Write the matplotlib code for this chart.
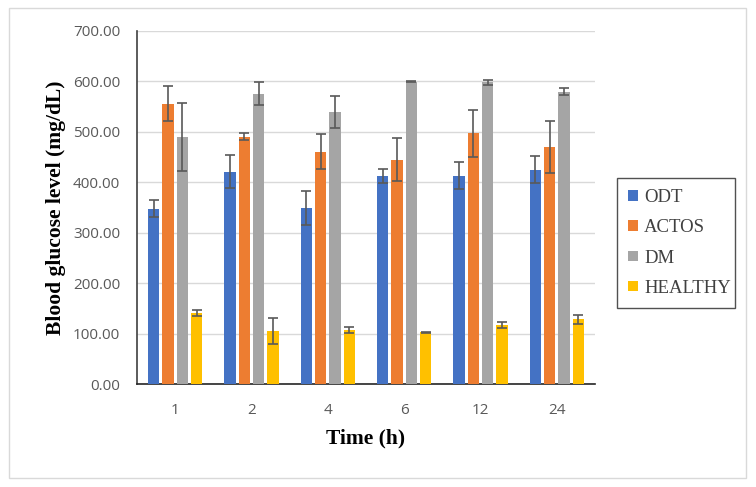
import numpy as np
import matplotlib.pyplot as plt
from matplotlib.patches import Rectangle

# Blood glucose data
times = ['1', '2', '4', '6', '12', '24']
groups = ['ODT', 'ACTOS', 'DM', 'HEALTHY']

odt = [348, 421, 349, 412, 413, 425]
odt_err = [16, 33, 34, 14, 27, 27]
actos = [556, 490, 461, 445, 497, 470]
actos_err = [35, 7, 35, 43, 47, 52]
dm = [490, 576, 540, 599, 598, 580]
dm_err = [67, 22, 32, 1, 5, 7]
healthy = [140, 105, 108, 103, 117, 128]
healthy_err = [6, 25, 6, 1, 5, 9]

colors = ['#4472C4', '#ED7D31', '#A5A5A5', '#FFC000']

fig = plt.figure(figsize=(7.56, 4.87), dpi=100)
ax = fig.add_axes([137 / 756, 1 - 384 / 487, (595 - 137) / 756, (384 - 31) / 487])

# light grey frame round the whole chart
fig.patches.append(Rectangle((9 / 756, 1 - 478 / 487), 737 / 756, 470 / 487,
                             transform=fig.transFigure, fill=False,
                             edgecolor='#d9d9d9', linewidth=1.0))

x = np.arange(len(times))
pitch = 0.1875
width = 0.148
series = [(odt, odt_err), (actos, actos_err), (dm, dm_err), (healthy, healthy_err)]
for i, (vals, errs) in enumerate(series):
    pos = x + (i - 1.5) * pitch
    ax.bar(pos, vals, width, color=colors[i], label=groups[i], zorder=3)
    ax.errorbar(pos, vals, yerr=errs, fmt='none', ecolor='#595959',
                elinewidth=1.2, capsize=3.5, capthick=1.2, zorder=4)

ax.set_xlim(-0.5, len(times) - 0.5)
ax.set_ylim(0, 700)
ax.set_yticks(np.arange(0, 701, 100))
ax.set_yticklabels([f'{v:.2f}' for v in np.arange(0, 701, 100)])
ax.set_xticks(x)
ax.set_xticklabels(times)
ax.tick_params(length=0, labelsize=11, labelcolor='#595959')
ax.tick_params(axis='x', pad=14)
ax.tick_params(axis='y', pad=12)
for lab in ax.get_xticklabels() + ax.get_yticklabels():
    lab.set_family('Open Sans')

ax.grid(axis='y', color='#d9d9d9', linewidth=1.0, zorder=0)
ax.spines['top'].set_visible(False)
ax.spines['right'].set_visible(False)
ax.spines['left'].set_color('#404040')
ax.spines['bottom'].set_color('#262626')
ax.spines['left'].set_linewidth(1.2)
ax.spines['bottom'].set_linewidth(1.2)

ax.set_xlabel('Time (h)', family='Liberation Serif', fontweight='bold',
              fontsize=15.5, labelpad=7)
ax.set_ylabel('Blood glucose level (mg/dL)', family='Liberation Serif',
              fontweight='bold', fontsize=15.5, labelpad=5)

leg = ax.legend(loc='center left', bbox_to_anchor=(617 / 756, 1 - 308 / 487, 118 / 756, 130 / 487),
                bbox_transform=fig.transFigure, mode='expand',
                prop={'family': 'Liberation Serif', 'size': 13.5},
                handlelength=0.5, handleheight=0.5, handletextpad=0.35,
                labelspacing=0.7, borderpad=0.6, fancybox=False,
                frameon=True, edgecolor='#262626', borderaxespad=0)
leg.get_frame().set_linewidth(1.0)
for t in leg.get_texts():
    t.set_color('#404040')

fig.savefig('out.png', dpi=100)
